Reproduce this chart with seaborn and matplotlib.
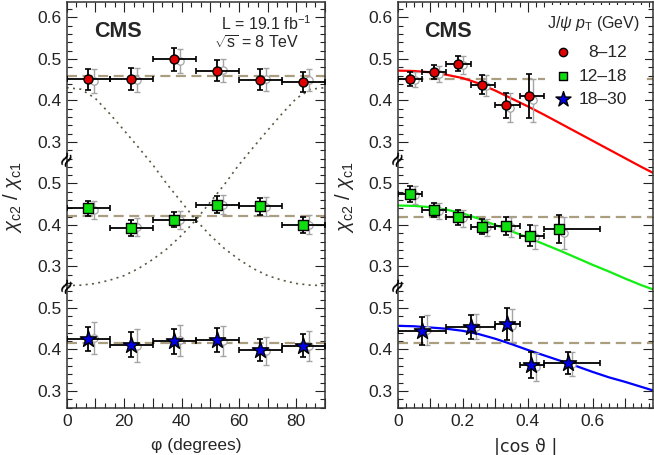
import numpy as np
import pandas as pd
import matplotlib
matplotlib.use("Agg")
import matplotlib.pyplot as plt
import seaborn as sns
from matplotlib.ticker import MultipleLocator, FuncFormatter, FixedLocator

# ---------------- data ----------------
series_names = ["8\u201312", "12\u201318", "18\u201330"]
series_colors = ["#e00000", "#10dd10", "#0000e6"]
line_colors = ["#ff0000", "#11ee11", "#0000ff"]
series_markers = ["o", "s", "*"]
section_offset = [0.6, 0.3, 0.0]   # stacked broken-axis sections

# phi panel
phi_centers = [7.5, 22.5, 37.5, 52.5, 67.5, 82.5]
phi_lo = [0, 15, 30, 45, 60, 75]
phi_hi = [15, 30, 45, 60, 75, 90]

phi_red = [0.451, 0.452, 0.499, 0.472, 0.450, 0.444]
phi_red_err = [0.026, 0.026, 0.027, 0.025, 0.025, 0.024]
phi_red_alt = [0.447, 0.449, 0.496, 0.473, 0.451, 0.449]
phi_red_alt_err = [0.029, 0.029, 0.029, 0.028, 0.028, 0.027]

phi_green = [0.440, 0.392, 0.413, 0.449, 0.445, 0.400]
phi_green_err = [0.019, 0.019, 0.019, 0.020, 0.020, 0.019]
phi_green_alt = [0.437, 0.395, 0.412, 0.449, 0.444, 0.401]
phi_green_alt_err = [0.022, 0.022, 0.022, 0.023, 0.023, 0.022]

phi_blue = [0.425, 0.411, 0.420, 0.422, 0.399, 0.409]
phi_blue_err = [0.029, 0.030, 0.030, 0.029, 0.027, 0.028]
phi_blue_alt = [0.428, 0.409, 0.422, 0.420, 0.397, 0.409]
phi_blue_alt_err = [0.038, 0.040, 0.038, 0.036, 0.034, 0.036]

phi_avg = [0.460, 0.422, 0.415]

# model curves (phi), in stacked-axis units
phi_model_x = [0, 5, 10, 15, 20, 25, 30, 35, 40, 45, 50, 55, 60, 65, 70, 75, 80, 85, 90]
phi_model_a = [1.031, 1.027, 1.005, 0.968, 0.928, 0.887, 0.845, 0.798, 0.755, 0.712,
               0.675, 0.643, 0.617, 0.595, 0.578, 0.567, 0.559, 0.555, 0.554]
phi_model_b = [0.554, 0.555, 0.559, 0.567, 0.578, 0.595, 0.617, 0.643, 0.675, 0.712,
               0.755, 0.798, 0.845, 0.887, 0.928, 0.968, 1.005, 1.027, 1.031]

# |cos theta| panel
cos_red_x = [0.038, 0.112, 0.185, 0.258, 0.332, 0.403]
cos_red_lo = [0.0, 0.075, 0.15, 0.225, 0.30, 0.375]
cos_red_hi = [0.075, 0.15, 0.225, 0.30, 0.375, 0.45]
cos_red = [0.452, 0.468, 0.488, 0.438, 0.388, 0.411]
cos_red_err = [0.016, 0.017, 0.018, 0.023, 0.031, 0.054]
cos_red_alt = [0.450, 0.464, 0.485, 0.436, 0.383, 0.400]
cos_red_alt_err = [0.018, 0.020, 0.021, 0.026, 0.036, 0.052]

cos_green_x = [0.039, 0.113, 0.186, 0.261, 0.333, 0.407, 0.497]
cos_green_lo = [0.0, 0.075, 0.15, 0.225, 0.30, 0.375, 0.45]
cos_green_hi = [0.075, 0.15, 0.225, 0.30, 0.375, 0.45, 0.622]
cos_green = [0.474, 0.436, 0.419, 0.396, 0.397, 0.374, 0.390]
cos_green_err = [0.019, 0.016, 0.018, 0.018, 0.022, 0.025, 0.033]
cos_green_alt = [0.472, 0.434, 0.416, 0.394, 0.395, 0.371, 0.381]
cos_green_alt_err = [0.021, 0.019, 0.020, 0.021, 0.025, 0.028, 0.038]

cos_blue_x = [0.076, 0.225, 0.337, 0.410, 0.523]
cos_blue_lo = [0.0, 0.15, 0.30, 0.375, 0.45]
cos_blue_hi = [0.15, 0.30, 0.375, 0.45, 0.622]
cos_blue = [0.445, 0.454, 0.461, 0.362, 0.368]
cos_blue_err = [0.034, 0.028, 0.038, 0.031, 0.026]
cos_blue_alt = [0.448, 0.455, 0.457, 0.358, 0.365]
cos_blue_alt_err = [0.036, 0.030, 0.040, 0.033, 0.028]

cos_avg = [0.4525, 0.419, 0.4165]

cos_model_x = [0.0, 0.05, 0.10, 0.15, 0.20, 0.25, 0.30, 0.35, 0.40, 0.45, 0.50,
               0.55, 0.60, 0.65, 0.70, 0.75, 0.80]
cos_model_red = [0.472, 0.471, 0.468, 0.462, 0.454, 0.441, 0.424, 0.405, 0.386, 0.366,
                 0.345, 0.324, 0.303, 0.282, 0.261, 0.240, 0.220]
cos_model_green = [0.447, 0.446, 0.443, 0.437, 0.428, 0.415, 0.400, 0.385, 0.370, 0.354,
                   0.338, 0.321, 0.304, 0.288, 0.271, 0.255, 0.241]
cos_model_blue = [0.457, 0.456, 0.453, 0.450, 0.445, 0.437, 0.426, 0.413, 0.399, 0.386,
                  0.373, 0.360, 0.346, 0.333, 0.322, 0.310, 0.298]

ytick_labels = ["0.3", "0.4", "0.5", "0.3", "0.4", "0.5", "0.3", "0.4", "0.5", "0.6"]

# ---------------- style ----------------
sns.set_theme(style="ticks")
plt.rcParams["font.family"] = ["Liberation Sans", "DejaVu Sans"]
plt.rcParams["mathtext.fontset"] = "custom"
plt.rcParams["mathtext.rm"] = "Liberation Sans"
plt.rcParams["mathtext.it"] = "Liberation Sans:italic"
plt.rcParams["mathtext.bf"] = "Liberation Sans:bold"

AVG_COLOR = "#ab9d80"
MODEL_COLOR = "#545b40"
GRAY = "#a4a4a4"
W, H = 654, 455

fig = plt.figure(figsize=(W / 100, H / 100), dpi=100)
bottom = 1 - 408.3 / H
height = (408.3 - 2) / H
ax1 = fig.add_axes([66.7 / W, bottom, (325 - 66.7) / W, height])
ax2 = fig.add_axes([397.7 / W, bottom, (653 - 397.7) / W, height])

YLIM = (0.2583, 1.2373)


def draw_series(ax, x, lo, hi, y, yerr, yalt, yalt_err, shift, idx, ms):
    off = section_offset[idx]
    x = np.asarray(x, float)
    yd = np.asarray(y) + off
    yad = np.asarray(yalt) + off
    # alternative (open, gray) result
    ax.errorbar(x + shift, yad, yerr=yalt_err, fmt="none", ecolor=GRAY,
                elinewidth=1.0, capsize=2, capthick=1.0, zorder=3)
    sns.scatterplot(x=x + shift, y=yad, marker="o", s=28, facecolor="white",
                    edgecolor=GRAY, linewidth=0.9, ax=ax, zorder=3.5, legend=False)
    # main result
    xerr = [x - np.asarray(lo), np.asarray(hi) - x]
    ax.errorbar(x, yd, xerr=xerr, yerr=yerr, fmt="none", ecolor="black",
                elinewidth=1.3, capsize=2, capthick=1.2, zorder=4)
    sns.scatterplot(x=x, y=yd, marker=series_markers[idx], s=ms,
                    color=series_colors[idx], edgecolor="black", linewidth=1.0,
                    ax=ax, zorder=5, legend=False)


marker_sizes = [42, 48, 150]

# ---- left panel ----
phi_sets = [
    (phi_red, phi_red_err, phi_red_alt, phi_red_alt_err),
    (phi_green, phi_green_err, phi_green_alt, phi_green_alt_err),
    (phi_blue, phi_blue_err, phi_blue_alt, phi_blue_alt_err),
]
for i in range(3):
    ax1.axhline(phi_avg[i] + section_offset[i], color=AVG_COLOR, lw=1.6,
                dashes=(4.5, 2.5), zorder=2)
sns.lineplot(x=phi_model_x, y=phi_model_a, ax=ax1, color=MODEL_COLOR, lw=1.2,
             linestyle=(0, (1.2, 2.6)), estimator=None, sort=False, zorder=2)
sns.lineplot(x=phi_model_x, y=phi_model_b, ax=ax1, color=MODEL_COLOR, lw=1.2,
             linestyle=(0, (1.2, 2.6)), estimator=None, sort=False, zorder=2)
for i, (v, e, va, ea) in enumerate(phi_sets):
    draw_series(ax1, phi_centers, phi_lo, phi_hi, v, e, va, ea, 2.0, i, marker_sizes[i])

# ---- right panel ----
cos_sets = [
    (cos_red_x, cos_red_lo, cos_red_hi, cos_red, cos_red_err, cos_red_alt, cos_red_alt_err),
    (cos_green_x, cos_green_lo, cos_green_hi, cos_green, cos_green_err, cos_green_alt, cos_green_alt_err),
    (cos_blue_x, cos_blue_lo, cos_blue_hi, cos_blue, cos_blue_err, cos_blue_alt, cos_blue_alt_err),
]
cos_models = [cos_model_red, cos_model_green, cos_model_blue]
for i in range(3):
    ax2.axhline(cos_avg[i] + section_offset[i], color=AVG_COLOR, lw=1.6,
                dashes=(4.5, 2.5), zorder=2)
    sns.lineplot(x=cos_model_x, y=np.asarray(cos_models[i]) + section_offset[i], ax=ax2,
                 color=line_colors[i], lw=1.6, estimator=None, sort=False, zorder=2.5)
for i, (x, lo, hi, v, e, va, ea) in enumerate(cos_sets):
    draw_series(ax2, x, lo, hi, v, e, va, ea, 0.015, i, marker_sizes[i])

# ---- axes formatting ----
ytick_pos = 0.3 + 0.1 * np.arange(len(ytick_labels))
for ax in (ax1, ax2):
    ax.set_ylim(*YLIM)
    ax.yaxis.set_major_locator(FixedLocator(ytick_pos))
    ax.set_yticklabels(ytick_labels)
    ax.yaxis.set_minor_locator(MultipleLocator(0.02))
    ax.tick_params(which="both", direction="in", top=True, right=True,
                   labelsize=12.5, colors="#222222", width=0.8)
    ax.tick_params(which="major", length=7, pad=4)
    ax.tick_params(which="minor", length=3.5)
    for sp in ax.spines.values():
        sp.set_linewidth(1.1)
        sp.set_color("#333333")
    ax.set_ylabel(r"$\chi_{\rm c2}$ / $\chi_{\rm c1}$", fontsize=14.5)
    ax.yaxis.set_label_coords(-0.165, 0.52)
    # axis-break marks
    for yb in (0.557, 0.862):
        ax.text(0.0, yb, "\u2248", transform=ax.get_yaxis_transform(),
                rotation=60, ha="center", va="center", fontsize=15,
                family="DejaVu Sans", color="black", zorder=10, clip_on=False)

ax1.set_xlim(0, 90)
ax1.xaxis.set_major_locator(MultipleLocator(10))
ax1.xaxis.set_minor_locator(MultipleLocator(10 / 3))
ax1.xaxis.set_major_formatter(FuncFormatter(lambda v, p: f"{v:.0f}" if round(v) % 20 == 0 else ""))
ax1.set_xlabel("\u03c6 (degrees)", fontsize=12.5)
ax1.xaxis.set_label_coords(0.5, -0.072)

ax2.set_xlim(0, 0.786)
ax2.xaxis.set_major_locator(MultipleLocator(0.1))
ax2.xaxis.set_minor_locator(MultipleLocator(0.025))


def cos_fmt(v, p):
    k = int(round(v * 10))
    if k % 2:
        return ""
    return "0" if k == 0 else f"{v:.1f}"


ax2.xaxis.set_major_formatter(FuncFormatter(cos_fmt))
ax2.set_xlabel("|cos \u03d1 |", fontsize=12.5, family=["DejaVu Sans"])
ax2.xaxis.set_label_coords(0.5, -0.072)

# ---- texts ----
ax1.text(0.106, 0.915, "CMS", transform=ax1.transAxes, fontsize=15.5,
         fontweight="bold", ha="left", va="baseline")
ax2.text(0.103, 0.915, "CMS", transform=ax2.transAxes, fontsize=15.5,
         fontweight="bold", ha="left", va="baseline")
ax1.text(0.948, 0.931, r"L = 19.1 fb$^{-1}$", transform=ax1.transAxes,
         fontsize=11.5, ha="right", va="baseline")
ax1.text(0.903, 0.884, r"$\sqrt{\rm s}$ = 8 TeV", transform=ax1.transAxes,
         fontsize=11.5, ha="right", va="baseline")

# ---- legend (right panel) ----
ax2.add_patch(plt.Rectangle((0.577, 0.742), 0.39, 0.25, transform=ax2.transAxes,
                            facecolor="white", edgecolor="none", zorder=6))
ax2.text(0.766, 0.935, r"J/$\psi$ $p_{\rm T}$ (GeV)", transform=ax2.transAxes,
         fontsize=11.5, ha="center", va="baseline", zorder=7)
leg_y = [0.878, 0.818, 0.761]
leg_base = [0.865, 0.806, 0.749]
leg_sizes = [36, 40, 130]
for i in range(3):
    ax2.scatter([0.649], [leg_y[i]], transform=ax2.transAxes, marker=series_markers[i],
                s=leg_sizes[i], color=series_colors[i], edgecolor="black",
                linewidth=1.0, zorder=7, clip_on=False)
    ax2.text(0.897, leg_base[i], series_names[i], transform=ax2.transAxes,
             fontsize=12.5, ha="right", va="baseline", zorder=7)

fig.savefig("out.png", dpi=100)
